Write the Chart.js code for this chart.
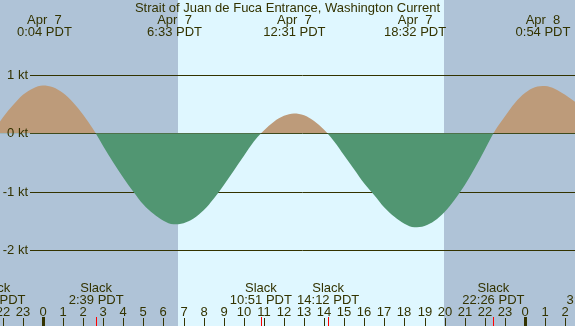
<!DOCTYPE html>
<html>
<head>
<meta charset="utf-8">
<title>Strait of Juan de Fuca Entrance current</title>
<script src="https://cdn.jsdelivr.net/npm/chart.js@4/dist/chart.umd.min.js"></script>
<style>
    html, body { margin: 0; padding: 0; background: #afc3d7; }
    #wrap { width: 575px; height: 326px; }
</style>
</head>
<body>
<div id="wrap"><canvas id="currentChart" width="575" height="326"></canvas></div>
<script>
const chartTitle = 'Strait of Juan de Fuca Entrance, Washington Current';

// hours after midnight of Apr 7 (PDT), and current speed in knots (flood > 0)
const hours = [
    -2.5, -2.0, -1.5, -1.0, -0.5, 0.0, 0.5, 1.0, 1.5, 2.0, 2.5, 3.0, 3.5, 4.0, 4.5,
    5.0, 5.5, 6.0, 6.5, 7.0, 7.5, 8.0, 8.5, 9.0, 9.5, 10.0, 10.5, 11.0, 11.5, 12.0,
    12.5, 13.0, 13.5, 14.0, 14.5, 15.0, 15.5, 16.0, 16.5, 17.0, 17.5, 18.0, 18.5, 19.0,
    19.5, 20.0, 20.5, 21.0, 21.5, 22.0, 22.5, 23.0, 23.5, 24.0, 24.5, 25.0, 25.5, 26.0, 26.5,
];
const knots = [
    0.02, 0.27, 0.48, 0.66, 0.77, 0.82, 0.79, 0.69, 0.53, 0.32, 0.07, -0.22, -0.50, -0.76, -1.00,
    -1.22, -1.38, -1.50, -1.56, -1.54, -1.46, -1.32, -1.12, -0.89, -0.64, -0.39, -0.14, 0.05, 0.20, 0.30,
    0.34, 0.31, 0.21, 0.06, -0.14, -0.38, -0.62, -0.86, -1.06, -1.27, -1.43, -1.55, -1.61, -1.59,
    -1.50, -1.35, -1.14, -0.89, -0.60, -0.28, 0.04, 0.29, 0.52, 0.69, 0.79, 0.81, 0.76, 0.66, 0.54,
];

const knotTicks = [1, 0, -1, -2];
const knotLabels = ['1 kt', '0 kt', '-1 kt', '-2 kt'];

const hourTicks = [-2, -1, 0, 1, 2, 3, 4, 5, 6, 7, 8, 9, 10, 11, 12, 13, 14, 15, 16, 17, 18, 19, 20, 21, 22, 23, 24, 25, 26];
const hourLabels = ['22', '23', '0', '1', '2', '3', '4', '5', '6', '7', '8', '9', '10', '11', '12', '13', '14', '15', '16', '17', '18', '19', '20', '21', '22', '23', '0', '1', '2'];

// max flood / max ebb events (top labels)
const maxTimes = [0.07, 6.55, 12.52, 18.53, 24.9];
const maxDates = ['Apr  7', 'Apr  7', 'Apr  7', 'Apr  7', 'Apr  8'];
const maxLabels = ['0:04 PDT', '6:33 PDT', '12:31 PDT', '18:32 PDT', '0:54 PDT'];

// slack water events (bottom labels)
const slackTimes = [-2.42, 2.65, 10.85, 14.2, 22.43, 27.44];
const slackLabels = ['21:35 PDT', '2:39 PDT', '10:51 PDT', '14:12 PDT', '22:26 PDT', '3:26 PDT'];

const sunrise = 6.74;
const sunset = 19.98;

const NIGHT = '#afc3d7';
const DAY = '#dff7ff';
const FLOOD = '#bd9b7a';
const EBB = '#519672';
const INK = '#333300';
const FONT = '13px "Liberation Sans", Arial, sans-serif';

const tidePlot = {
    id: 'tidePlot',
    beforeDatasetsDraw(chart) {
        const { ctx, chartArea, scales } = chart;
        const x = scales.x;
        const y = scales.y;
        ctx.save();
        ctx.fillStyle = NIGHT;
        ctx.fillRect(chartArea.left, chartArea.top, chartArea.width, chartArea.height);
        const x1 = x.getPixelForValue(sunrise);
        const x2 = x.getPixelForValue(sunset);
        ctx.fillStyle = DAY;
        ctx.fillRect(Math.round(x1), chartArea.top, Math.round(x2) - Math.round(x1), chartArea.height);

        // knot grid lines
        ctx.strokeStyle = INK;
        ctx.lineWidth = 1;
        knotTicks.forEach((v) => {
            const py = Math.round(y.getPixelForValue(v)) + 0.5;
            ctx.beginPath();
            ctx.moveTo(30, py);
            ctx.lineTo(chartArea.right, py);
            ctx.stroke();
        });
        ctx.restore();
    },
    afterDatasetsDraw(chart) {
        const { ctx, chartArea, scales } = chart;
        const x = scales.x;
        const y = scales.y;
        ctx.save();
        ctx.font = FONT;
        ctx.fillStyle = INK;
        ctx.textBaseline = 'middle';

        // y labels
        ctx.textAlign = 'right';
        knotTicks.forEach((v, i) => {
            ctx.fillText(knotLabels[i], 28, Math.round(y.getPixelForValue(v)) + 0.5);
        });

        // title and max current labels
        ctx.textAlign = 'center';
        ctx.fillText(chartTitle, (chartArea.left + chartArea.right) / 2, 8);
        maxTimes.forEach((t, i) => {
            const px = x.getPixelForValue(t);
            ctx.fillText(maxDates[i], px, 20);
            ctx.fillText(maxLabels[i], px, 32);
        });

        // slack labels
        slackTimes.forEach((t, i) => {
            const px = x.getPixelForValue(t);
            ctx.fillText('Slack', px, 288);
            ctx.fillText(slackLabels[i], px, 300);
        });

        // hour labels and ticks
        hourTicks.forEach((h, i) => {
            const px = Math.round(x.getPixelForValue(h));
            ctx.fillText(hourLabels[i], px, 312);
            if (hourLabels[i] === '0') {
                ctx.fillRect(px - 1, 317, 3, 9);
            } else {
                ctx.fillRect(px, 318, 1, 8);
            }
        });
        ctx.fillStyle = '#ff0000';
        slackTimes.forEach((t) => {
            const px = Math.round(x.getPixelForValue(t));
            ctx.fillRect(px, 317, 1, 9);
        });
        ctx.restore();
    },
};

new Chart(document.getElementById('currentChart').getContext('2d'), {
    type: 'line',
    data: {
        datasets: [
            {
                data: hours.map((h, i) => ({ x: h, y: knots[i] })),
                borderWidth: 0,
                pointRadius: 0,
                cubicInterpolationMode: 'monotone',
                fill: { target: 'origin', above: FLOOD, below: EBB },
            },
        ],
    },
    options: {
        responsive: false,
        animation: false,
        layout: { padding: 0 },
        scales: {
            // 1 kt sits at y=75 and -2 kt at y=250; 0 h at x=43, about 20.08 px per hour
            x: { type: 'linear', min: -2.141, max: 26.494, display: false },
            y: { min: -3.303, max: 2.2857, display: false },
        },
        plugins: {
            legend: { display: false },
            tooltip: { enabled: false },
        },
    },
    plugins: [tidePlot],
});
</script>
</body>
</html>
